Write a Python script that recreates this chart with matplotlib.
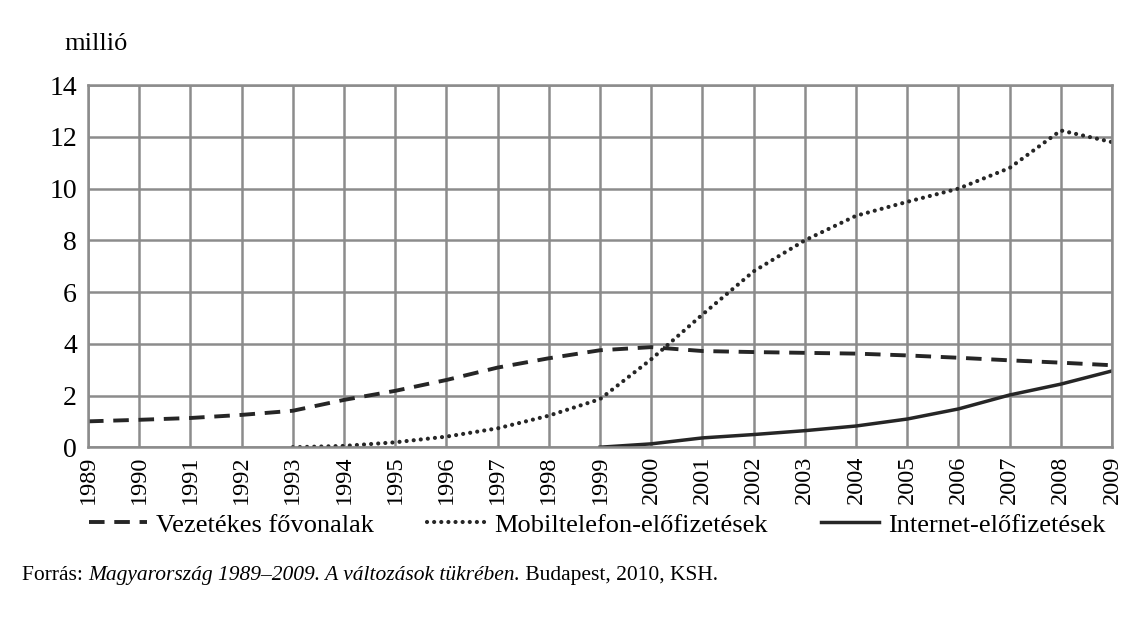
import matplotlib.pyplot as plt
from matplotlib.lines import Line2D

plt.rcParams['font.family'] = ['Liberation Serif', 'DejaVu Serif']

years = list(range(1989, 2010))

# Vezetékes fővonalak (1989-2009)
fixed = [1.00, 1.06, 1.13, 1.25, 1.41, 1.83, 2.18, 2.60, 3.08, 3.44, 3.75,
         3.87, 3.72, 3.68, 3.65, 3.62, 3.55, 3.46, 3.36, 3.27, 3.17]
# Mobiltelefon-előfizetések (1993-2009)
mobile_years = list(range(1993, 2010))
mobile = [0.0, 0.05, 0.19, 0.41, 0.73, 1.22, 1.86, 3.40, 5.13, 6.80,
          8.00, 8.95, 9.49, 10.0, 10.8, 12.25, 11.8]
# Internet-előfizetések (1999-2009)
net_years = list(range(1999, 2010))
internet = [0.0, 0.13, 0.36, 0.49, 0.64, 0.82, 1.09, 1.48, 2.02, 2.44, 2.95]

labels = ['Vezetékes fővonalak', 'Mobiltelefon-előfizetések', 'Internet-előfizetések']

grid_c = '#8c8c8c'
line_c = '#262626'
dash_style = dict(color=line_c, lw=2.8, dashes=(4, 2.5))
dot_style = dict(color=line_c, lw=3.0, dashes=(0.01, 1.7), dash_capstyle='round')
solid_style = dict(color=line_c, lw=2.5)

fig = plt.figure(figsize=(11.34, 6.22), dpi=100)
ax = fig.add_axes([0.0776, 0.281, 0.903, 0.582])

ax.plot(years, fixed, **dash_style)
ax.plot(mobile_years, mobile, **dot_style)
ax.plot(net_years, internet, **solid_style)

ax.set_xlim(1989, 2009)
ax.set_ylim(0, 14)
ax.set_xticks(years)
ax.set_xticklabels([str(y) for y in years], rotation=90, fontsize=17.5)
ax.set_yticks(range(0, 15, 2))
ax.tick_params(axis='y', labelsize=20, length=0, pad=8)
ax.tick_params(axis='x', length=0, pad=6)
ax.grid(True, color=grid_c, lw=1.8)
ax.set_axisbelow(True)
for s in ax.spines.values():
    s.set_color(grid_c)
    s.set_linewidth(1.8)

fig.text(0.057, 0.93, 'millió', fontsize=19, ha='left', va='center')

handles = [Line2D([], [], **dash_style),
           Line2D([], [], **dot_style),
           Line2D([], [], **solid_style)]
fig.legend(handles, labels, loc='center left', bbox_to_anchor=(0.0785, 0.156),
           ncol=3, frameon=False, fontsize=19, handlelength=2.2,
           handletextpad=0.35, columnspacing=2.0, borderpad=0, borderaxespad=0)

# source line, pieces placed one after another
fig.canvas.draw()
r = fig.canvas.get_renderer()
x = 22
for txt, st in [('Forrás: ', 'normal'),
                ('Magyarország 1989–2009. A változások tükrében.', 'italic'),
                (' Budapest, 2010, KSH.', 'normal')]:
    t = fig.text(x / 1134, 0.075, txt, fontsize=15.5, style=st,
                 ha='left', va='center')
    x = t.get_window_extent(r).x1

fig.savefig('out.png', dpi=100)
